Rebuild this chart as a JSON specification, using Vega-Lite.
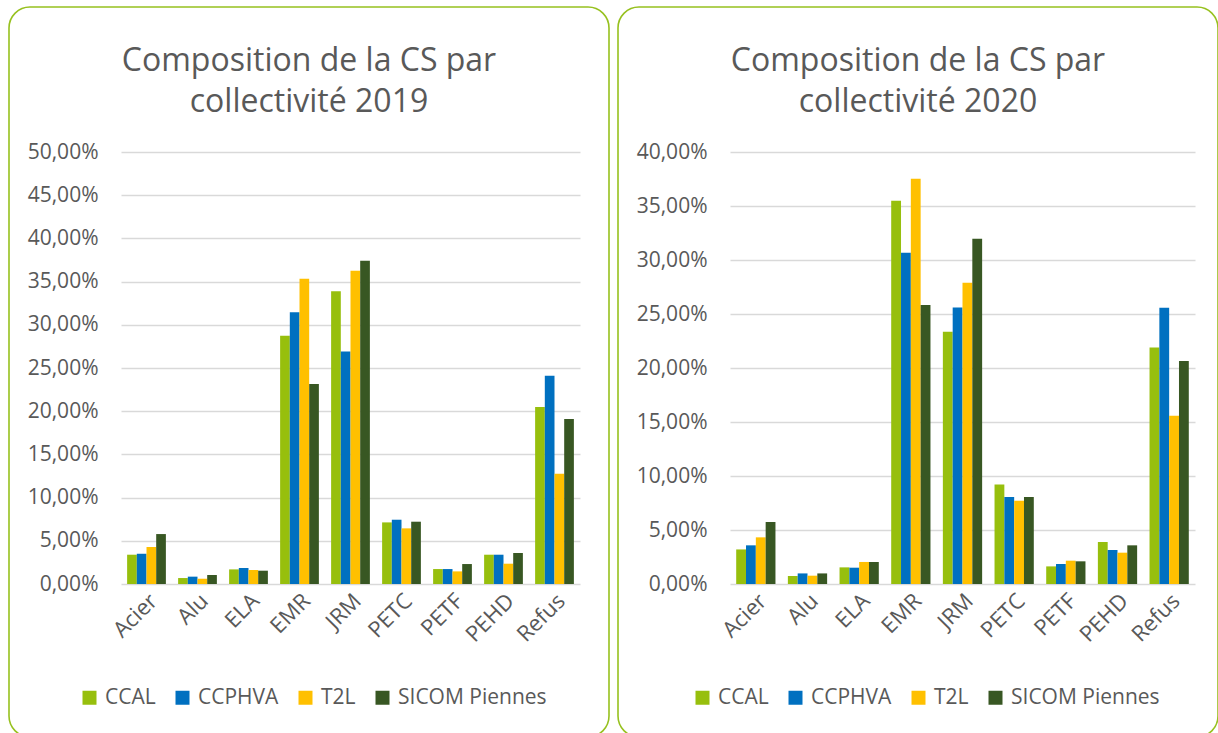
{
  "$schema": "https://vega.github.io/schema/vega-lite/v6.json",
  "background": "white",
  "padding": {"left": 8, "top": 6, "right": 0, "bottom": 0},
  "datasets": {
    "cs": [
      {"year": 2019, "cat": "Acier", "coll": "CCAL", "val": 0.0339},
      {"year": 2019, "cat": "Acier", "coll": "CCPHVA", "val": 0.0350},
      {"year": 2019, "cat": "Acier", "coll": "T2L", "val": 0.0428},
      {"year": 2019, "cat": "Acier", "coll": "SICOM Piennes", "val": 0.0578},
      {"year": 2019, "cat": "Alu", "coll": "CCAL", "val": 0.0069},
      {"year": 2019, "cat": "Alu", "coll": "CCPHVA", "val": 0.0085},
      {"year": 2019, "cat": "Alu", "coll": "T2L", "val": 0.0061},
      {"year": 2019, "cat": "Alu", "coll": "SICOM Piennes", "val": 0.0104},
      {"year": 2019, "cat": "ELA", "coll": "CCAL", "val": 0.0169},
      {"year": 2019, "cat": "ELA", "coll": "CCPHVA", "val": 0.0185},
      {"year": 2019, "cat": "ELA", "coll": "T2L", "val": 0.0162},
      {"year": 2019, "cat": "ELA", "coll": "SICOM Piennes", "val": 0.0154},
      {"year": 2019, "cat": "EMR", "coll": "CCAL", "val": 0.2874},
      {"year": 2019, "cat": "EMR", "coll": "CCPHVA", "val": 0.3144},
      {"year": 2019, "cat": "EMR", "coll": "T2L", "val": 0.3534},
      {"year": 2019, "cat": "EMR", "coll": "SICOM Piennes", "val": 0.2315},
      {"year": 2019, "cat": "JRM", "coll": "CCAL", "val": 0.3387},
      {"year": 2019, "cat": "JRM", "coll": "CCPHVA", "val": 0.2692},
      {"year": 2019, "cat": "JRM", "coll": "T2L", "val": 0.3626},
      {"year": 2019, "cat": "JRM", "coll": "SICOM Piennes", "val": 0.3740},
      {"year": 2019, "cat": "PETC", "coll": "CCAL", "val": 0.0713},
      {"year": 2019, "cat": "PETC", "coll": "CCPHVA", "val": 0.0744},
      {"year": 2019, "cat": "PETC", "coll": "T2L", "val": 0.0644},
      {"year": 2019, "cat": "PETC", "coll": "SICOM Piennes", "val": 0.0721},
      {"year": 2019, "cat": "PETF", "coll": "CCAL", "val": 0.0173},
      {"year": 2019, "cat": "PETF", "coll": "CCPHVA", "val": 0.0173},
      {"year": 2019, "cat": "PETF", "coll": "T2L", "val": 0.0146},
      {"year": 2019, "cat": "PETF", "coll": "SICOM Piennes", "val": 0.0231},
      {"year": 2019, "cat": "PEHD", "coll": "CCAL", "val": 0.0339},
      {"year": 2019, "cat": "PEHD", "coll": "CCPHVA", "val": 0.0339},
      {"year": 2019, "cat": "PEHD", "coll": "T2L", "val": 0.0235},
      {"year": 2019, "cat": "PEHD", "coll": "SICOM Piennes", "val": 0.0359},
      {"year": 2019, "cat": "Refus", "coll": "CCAL", "val": 0.2049},
      {"year": 2019, "cat": "Refus", "coll": "CCPHVA", "val": 0.2411},
      {"year": 2019, "cat": "Refus", "coll": "T2L", "val": 0.1277},
      {"year": 2019, "cat": "Refus", "coll": "SICOM Piennes", "val": 0.1910},
      {"year": 2020, "cat": "Acier", "coll": "CCAL", "val": 0.0320},
      {"year": 2020, "cat": "Acier", "coll": "CCPHVA", "val": 0.0358},
      {"year": 2020, "cat": "Acier", "coll": "T2L", "val": 0.0432},
      {"year": 2020, "cat": "Acier", "coll": "SICOM Piennes", "val": 0.0574},
      {"year": 2020, "cat": "Alu", "coll": "CCAL", "val": 0.0074},
      {"year": 2020, "cat": "Alu", "coll": "CCPHVA", "val": 0.0098},
      {"year": 2020, "cat": "Alu", "coll": "T2L", "val": 0.0077},
      {"year": 2020, "cat": "Alu", "coll": "SICOM Piennes", "val": 0.0098},
      {"year": 2020, "cat": "ELA", "coll": "CCAL", "val": 0.0154},
      {"year": 2020, "cat": "ELA", "coll": "CCPHVA", "val": 0.0151},
      {"year": 2020, "cat": "ELA", "coll": "T2L", "val": 0.0204},
      {"year": 2020, "cat": "ELA", "coll": "SICOM Piennes", "val": 0.0204},
      {"year": 2020, "cat": "EMR", "coll": "CCAL", "val": 0.3549},
      {"year": 2020, "cat": "EMR", "coll": "CCPHVA", "val": 0.3068},
      {"year": 2020, "cat": "EMR", "coll": "T2L", "val": 0.3753},
      {"year": 2020, "cat": "EMR", "coll": "SICOM Piennes", "val": 0.2583},
      {"year": 2020, "cat": "JRM", "coll": "CCAL", "val": 0.2336},
      {"year": 2020, "cat": "JRM", "coll": "CCPHVA", "val": 0.2561},
      {"year": 2020, "cat": "JRM", "coll": "T2L", "val": 0.2790},
      {"year": 2020, "cat": "JRM", "coll": "SICOM Piennes", "val": 0.3197},
      {"year": 2020, "cat": "PETC", "coll": "CCAL", "val": 0.0922},
      {"year": 2020, "cat": "PETC", "coll": "CCPHVA", "val": 0.0805},
      {"year": 2020, "cat": "PETC", "coll": "T2L", "val": 0.0771},
      {"year": 2020, "cat": "PETC", "coll": "SICOM Piennes", "val": 0.0805},
      {"year": 2020, "cat": "PETF", "coll": "CCAL", "val": 0.0163},
      {"year": 2020, "cat": "PETF", "coll": "CCPHVA", "val": 0.0185},
      {"year": 2020, "cat": "PETF", "coll": "T2L", "val": 0.0216},
      {"year": 2020, "cat": "PETF", "coll": "SICOM Piennes", "val": 0.0210},
      {"year": 2020, "cat": "PEHD", "coll": "CCAL", "val": 0.0389},
      {"year": 2020, "cat": "PEHD", "coll": "CCPHVA", "val": 0.0315},
      {"year": 2020, "cat": "PEHD", "coll": "T2L", "val": 0.0290},
      {"year": 2020, "cat": "PEHD", "coll": "SICOM Piennes", "val": 0.0358},
      {"year": 2020, "cat": "Refus", "coll": "CCAL", "val": 0.2190},
      {"year": 2020, "cat": "Refus", "coll": "CCPHVA", "val": 0.2558},
      {"year": 2020, "cat": "Refus", "coll": "T2L", "val": 0.1558},
      {"year": 2020, "cat": "Refus", "coll": "SICOM Piennes", "val": 0.2065}
    ]
  },
  "spacing": 7,
  "resolve": {
    "scale": {"x": "independent", "y": "independent", "xOffset": "independent", "color": "independent"},
    "legend": {"color": "independent"}
  },
  "hconcat": [
    {
      "width": 600,
      "height": 730,
      "data": {"name": "cs"},
      "transform": [{"filter": "datum.year == 2019"}],
      "title": {"text": ["Composition de la CS par", "collectivité 2019"], "offset": -112},
      "mark": {"type": "bar"},
      "encoding": {
        "x": {
          "field": "cat", "type": "nominal", "sort": null,
          "scale": {"range": [112, 571], "paddingInner": 0.24, "paddingOuter": 0.12},
          "axis": {"offset": -153}
        },
        "xOffset": {"field": "coll", "type": "nominal", "sort": ["CCAL", "CCPHVA", "T2L", "SICOM Piennes"], "scale": {"paddingInner": 0, "paddingOuter": 0}},
        "y": {
          "field": "val", "type": "quantitative",
          "scale": {"domain": [0, 0.5], "range": [577, 145], "nice": false},
          "axis": {"offset": -112, "values": [0, 0.05, 0.1, 0.15, 0.2, 0.25, 0.3, 0.35, 0.4, 0.45, 0.5]}
        },
        "color": {
          "field": "coll", "type": "nominal",
          "scale": {"domain": ["CCAL", "CCPHVA", "T2L", "SICOM Piennes"], "range": ["#97bf0d", "#0070c0", "#ffc000", "#385723"]},
          "legend": {"orient": "none", "legendX": 70, "legendY": 680}
        }
      }
    },
    {
      "width": 600,
      "height": 730,
      "data": {"name": "cs"},
      "transform": [{"filter": "datum.year == 2020"}],
      "title": {"text": ["Composition de la CS par", "collectivité 2020"], "offset": -112},
      "mark": {"type": "bar"},
      "encoding": {
        "x": {
          "field": "cat", "type": "nominal", "sort": null,
          "scale": {"range": [112, 577], "paddingInner": 0.24, "paddingOuter": 0.12},
          "axis": {"offset": -153}
        },
        "xOffset": {"field": "coll", "type": "nominal", "sort": ["CCAL", "CCPHVA", "T2L", "SICOM Piennes"], "scale": {"paddingInner": 0, "paddingOuter": 0}},
        "y": {
          "field": "val", "type": "quantitative",
          "scale": {"domain": [0, 0.4], "range": [577, 145], "nice": false},
          "axis": {"offset": -112, "values": [0, 0.05, 0.1, 0.15, 0.2, 0.25, 0.3, 0.35, 0.4]}
        },
        "color": {
          "field": "coll", "type": "nominal",
          "scale": {"domain": ["CCAL", "CCPHVA", "T2L", "SICOM Piennes"], "range": ["#97bf0d", "#0070c0", "#ffc000", "#385723"]},
          "legend": {"orient": "none", "legendX": 74, "legendY": 680}
        }
      }
    }
  ],
  "config": {
    "font": "Open Sans",
    "view": {"stroke": "#97c11f", "strokeWidth": 1.6, "cornerRadius": 21, "fill": "white"},
    "title": {"font": "Open Sans", "fontSize": 32, "fontWeight": "normal", "color": "#595959", "lineHeight": 41, "anchor": "middle", "frame": "group"},
    "axisX": {
      "title": null, "domain": false, "ticks": false, "grid": false,
      "labelAngle": -45, "labelFont": "Open Sans", "labelFontSize": 22, "labelColor": "#595959", "labelPadding": 6
    },
    "axisY": {
      "title": null, "domain": false, "ticks": false, "grid": true,
      "gridColor": "#d9d9d9", "gridWidth": 1.5,
      "labelFont": "Open Sans", "labelFontSize": 21, "labelColor": "#595959", "labelPadding": 23,
      "labelExpr": "replace(format(datum.value, '.2%'), '.', ',')"
    },
    "legend": {
      "title": null, "direction": "horizontal", "symbolType": "square", "symbolSize": 196, "symbolStrokeWidth": 0,
      "labelFont": "Open Sans", "labelFontSize": 21, "labelColor": "#595959", "labelOffset": 5, "columnPadding": 16
    }
  }
}
